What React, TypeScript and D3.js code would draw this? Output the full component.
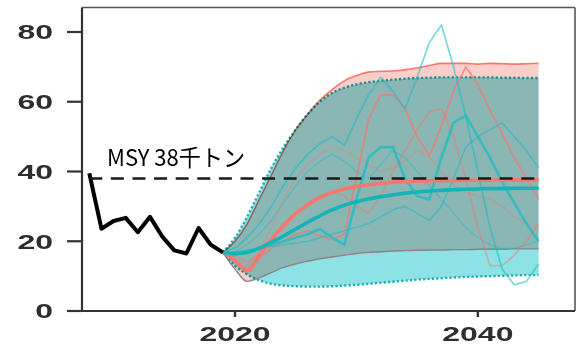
import React from 'react';
import * as d3 from 'd3';

// Historical catch (thousand tonnes)
const histYears = [2008, 2009, 2010, 2011, 2012, 2013, 2014, 2015, 2016, 2017, 2018, 2019];
const histCatch = [39.5, 23.6, 25.8, 26.7, 22.6, 27.0, 21.4, 17.4, 16.5, 23.8, 19.0, 16.8];

// Projection years
const projYears = [
  2019, 2020, 2021, 2022, 2023, 2024, 2025, 2026, 2027, 2028, 2029, 2030, 2031, 2032,
  2033, 2034, 2035, 2036, 2037, 2038, 2039, 2040, 2041, 2042, 2043, 2044, 2045,
];

// Scenario A (red): median and 90% band
const redMedian = [16.8, 14.5, 11.5, 16, 20.5, 24.5, 28, 30.5, 32.5, 34, 35, 35.7, 36.2, 36.6, 36.9, 37.1, 37.2, 37.3, 37.4, 37.4, 37.5, 37.5, 37.5, 37.6, 37.6, 37.6, 37.6];
const redUpper = [16.8, 20, 25, 32, 39, 46, 52, 56.5, 60.5, 63.5, 66, 67.5, 68.5, 68.7, 68.8, 69.2, 69.7, 70.4, 71, 71, 71, 70.8, 71, 70.9, 70.8, 70.9, 71];
const redLower = [16.8, 12, 8.5, 9.5, 11, 12.5, 13.5, 14.3, 15, 15.5, 16, 16.5, 16.8, 17, 17.2, 17.3, 17.4, 17.5, 17.5, 17.6, 17.6, 17.7, 17.7, 17.7, 17.8, 17.8, 17.8];

// Scenario B (teal): median and 90% band
const tealMedian = [16.8, 16.5, 16.8, 18, 19.7, 21.5, 23.5, 25.5, 27.3, 29, 30.3, 31.3, 32.1, 32.8, 33.3, 33.8, 34.1, 34.4, 34.6, 34.8, 34.9, 35.0, 35.1, 35.1, 35.2, 35.2, 35.2];
const tealUpper = [16.8, 21, 27, 34, 41, 47, 52, 56.5, 60, 62.5, 64, 65, 65.6, 66, 66.3, 66.6, 66.8, 66.9, 67, 67, 67, 67, 67, 66.9, 66.9, 66.8, 66.8];
const tealLower = [16.8, 13, 10.5, 8.8, 7.8, 7.3, 7.1, 7.0, 7.0, 7.1, 7.3, 7.5, 7.8, 8.1, 8.4, 8.7, 9.0, 9.2, 9.4, 9.6, 9.8, 9.9, 10.0, 10.1, 10.2, 10.3, 10.3];

// Individual simulated trajectories
const redRuns = [
  [16.8, 14, 12, 15, 18, 20, 22, 23, 21.5, 20.5, 22, 38, 55, 62, 62, 58, 50, 44.5, 53, 63, 70, 65, 57.5, 51, 44, 38, 32],
  [16.8, 16, 14, 16, 20, 25, 28, 31, 33, 34, 33, 30, 28, 33, 40, 46, 52, 57, 58, 50, 38, 24, 13, 13, 16, 20, 25],
  [16.8, 15, 13, 17, 24, 32, 38, 42, 45, 47, 46, 44, 42, 40, 41, 43, 46, 44, 40, 36, 34, 33, 32, 30, 27, 25, 23],
];
const redRunAlpha = [0.7, 0.45, 0.3];

const tealRuns = [
  [16.8, 18, 21, 25, 30, 36, 41, 45, 48, 50, 47.5, 55, 62, 67, 63, 58, 67, 77, 82, 70, 56, 40, 24, 12, 7.5, 8.5, 13.5],
  [16.8, 16, 17, 18, 19, 20, 21, 22, 23.5, 21, 19, 32, 44, 47, 47, 38, 33, 32, 44, 54, 56, 50, 44, 37, 31, 25, 20],
  [16.8, 17, 17.5, 18, 18.5, 19, 19.5, 20, 21, 22, 23, 24, 25, 27, 29, 30, 28, 26, 30, 38, 47, 50, 52, 54, 50, 46, 41],
  [16.8, 17, 19, 22, 26, 31, 36, 40, 43, 45, 43, 40, 38, 42, 46, 44, 40, 36, 32, 28, 24, 21, 19, 18, 18, 19, 20],
];
const tealRunAlpha = [0.55, 0.75, 0.55, 0.4];
const tealRunWidth = [1.8, 2.6, 1.6, 1.4];

const msy = 38;
const msyLabel = 'MSY 38千トン';

const yTicks = [0, 20, 40, 60, 80];
const xTicks = [2020, 2040];

const RED = '#F8766D';
const TEAL = '#00BFC4';

export default function App() {
  const W = 577;
  const H = 345;
  const x = d3.scaleLinear().domain([2007.4, 2048]).range([82, 575]);
  const y = d3.scaleLinear().domain([0, 80]).range([311, 32]);

  const frameTop = 7.5;
  const frameBottom = y(0);
  const frameLeft = x(2007.4);
  const frameRight = x(2048);

  const projLine = (vals: number[], curve = d3.curveLinear) =>
    d3
      .line<number>()
      .x((_, i) => x(projYears[i]))
      .y((d) => y(d))
      .curve(curve)(vals) as string;

  const band = (lo: number[], hi: number[]) =>
    d3
      .area<number>()
      .x((_, i) => x(projYears[i]))
      .y0((_, i) => y(lo[i]))
      .y1((_, i) => y(hi[i]))
      .curve(d3.curveMonotoneX)(lo) as string;

  const histPath = d3
    .line<number>()
    .x((_, i) => x(histYears[i]))
    .y((d) => y(d))(histCatch) as string;

  const tickFont = {
    fontFamily: '"Liberation Sans", Arial, sans-serif',
    fontSize: 20,
    fontWeight: 700,
    fill: '#2e2e2e',
  } as const;

  return (
    <svg
      width={W}
      height={H}
      style={{ position: 'absolute', left: 0, top: 0, background: '#fff' }}
    >
      {/* Scenario A band */}
      <path d={band(redLower, redUpper)} fill={RED} fillOpacity={0.36} />
      <path d={projLine(redUpper, d3.curveMonotoneX)} fill="none" stroke={RED} strokeWidth={1.6} />

      {/* Scenario B band, multiplied over A */}
      <g style={{ mixBlendMode: 'multiply' }}>
        <path d={band(tealLower, tealUpper)} fill={TEAL} fillOpacity={0.45} />
        <path
          d={projLine(tealUpper, d3.curveMonotoneX)}
          fill="none"
          stroke="#1AAFB4"
          strokeWidth={2.4}
          strokeDasharray="2.2,2.2"
        />
        <path
          d={projLine(tealLower, d3.curveMonotoneX)}
          fill="none"
          stroke="#1AAFB4"
          strokeWidth={2.4}
          strokeDasharray="2.2,2.2"
        />
      </g>
      <path d={projLine(redLower, d3.curveMonotoneX)} fill="none" stroke="#8c8484" strokeWidth={1.4} />

      {/* Individual trajectories */}
      {redRuns.map((r, i) => (
        <path
          key={`r${i}`}
          d={projLine(r)}
          fill="none"
          stroke={RED}
          strokeOpacity={redRunAlpha[i]}
          strokeWidth={1.8}
          strokeLinejoin="round"
        />
      ))}
      {tealRuns.map((r, i) => (
        <path
          key={`t${i}`}
          d={projLine(r)}
          fill="none"
          stroke="#19BDC2"
          strokeOpacity={tealRunAlpha[i]}
          strokeWidth={tealRunWidth[i]}
          strokeLinejoin="round"
        />
      ))}

      {/* Medians */}
      <path d={projLine(redMedian, d3.curveMonotoneX)} fill="none" stroke={RED} strokeWidth={3.6} />
      <path d={projLine(tealMedian, d3.curveMonotoneX)} fill="none" stroke="#14B4B9" strokeWidth={3.6} />

      {/* Historical catch */}
      <path d={histPath} fill="none" stroke="#000" strokeWidth={4} strokeLinejoin="round" />

      {/* MSY reference */}
      <line
        x1={x(2008)}
        x2={x(2045)}
        y1={y(msy)}
        y2={y(msy)}
        stroke="#1a1a1a"
        strokeWidth={2.6}
        strokeDasharray="13,8.6"
      />
      <text
        x={107}
        y={166}
        fontFamily='"Noto Sans CJK JP", "Noto Sans", sans-serif'
        fontSize={23}
        fill="#000"
        textLength={138}
        lengthAdjust="spacingAndGlyphs"
      >
        {msyLabel}
      </text>

      {/* Frame */}
      <line x1={frameLeft} x2={frameRight} y1={frameTop} y2={frameTop} stroke="#555" strokeWidth={1.6} />
      <line x1={frameRight} x2={frameRight} y1={frameTop} y2={frameBottom} stroke="#555" strokeWidth={1.6} />
      <line x1={frameLeft} x2={frameLeft} y1={frameTop} y2={frameBottom} stroke="#333" strokeWidth={2.2} />
      <line x1={frameLeft} x2={frameRight} y1={frameBottom} y2={frameBottom} stroke="#333" strokeWidth={2.2} />

      {/* Y axis */}
      {yTicks.map((t) => (
        <g key={`y${t}`}>
          <line x1={67} x2={frameLeft} y1={y(t)} y2={y(t)} stroke="#333" strokeWidth={2.2} />
          <text
            transform={`translate(53,${y(t) + 7.3}) scale(1.6,1)`}
            textAnchor="end"
            {...tickFont}
          >
            {t}
          </text>
        </g>
      ))}

      {/* X axis */}
      {xTicks.map((t) => (
        <g key={`x${t}`}>
          <line x1={x(t)} x2={x(t)} y1={frameBottom} y2={frameBottom + 6} stroke="#333" strokeWidth={2.4} />
          <text
            transform={`translate(${x(t)},${frameBottom + 30}) scale(1.6,1)`}
            textAnchor="middle"
            {...tickFont}
          >
            {t}
          </text>
        </g>
      ))}
    </svg>
  );
}
